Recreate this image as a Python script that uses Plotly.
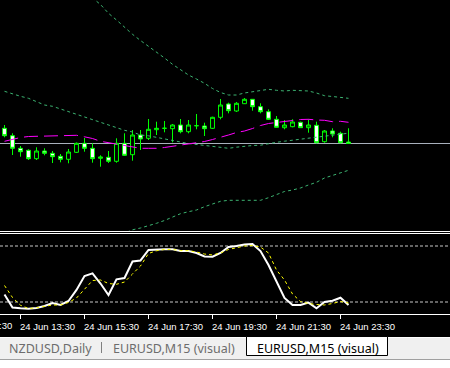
import pandas as pd
import plotly.graph_objects as go

# ---------------- data ----------------
times = pd.date_range("2019-06-24 13:00", periods=44, freq="15min")

open_ = [1.114147, 1.114073, 1.113947, 1.113927, 1.113843, 1.11392, 1.113897, 1.113867, 1.113837, 1.113907,
         1.113997, 1.113947, 1.113847, 1.113857, 1.113817, 1.113997, 1.113883, 1.11408, 1.114047, 1.114133,
         1.114147, 1.114143, 1.11418, 1.114113, 1.114173, 1.11417, 1.114147, 1.114257, 1.11439, 1.11432,
         1.114393, 1.114437, 1.114363, 1.114313, 1.114237, 1.114153, 1.114163, 1.114207, 1.114153, 1.114177,
         1.114013, 1.11412, 1.114097, 1.11401]
high = [1.11418, 1.114097, 1.11397, 1.113937, 1.113957, 1.113947, 1.11392, 1.11389, 1.11394, 1.114005,
        1.11405, 1.113997, 1.113877, 1.11392, 1.114047, 1.114097, 1.11413, 1.11413, 1.11424, 1.114213,
        1.11422, 1.11419, 1.11424, 1.11423, 1.11429, 1.114203, 1.114263, 1.11444, 1.114403, 1.11441,
        1.11445, 1.114437, 1.114397, 1.114337, 1.11427, 1.11423, 1.114237, 1.114213, 1.114237, 1.114213,
        1.11413, 1.114147, 1.114113, 1.114147]
low = [1.114057, 1.11388, 1.113863, 1.11383, 1.11383, 1.113877, 1.1138, 1.113807, 1.113797, 1.1139,
       1.113913, 1.113803, 1.113763, 1.1138, 1.113803, 1.11387, 1.113823, 1.11393, 1.11403, 1.11408,
       1.114107, 1.114007, 1.114097, 1.114097, 1.114137, 1.11407, 1.11414, 1.114237, 1.114297, 1.11431,
       1.11439, 1.114323, 1.114297, 1.11423, 1.114153, 1.114137, 1.114157, 1.11415, 1.114103, 1.113997,
       1.114003, 1.114057, 1.113997, 1.113995]
close = [1.114073, 1.113947, 1.113913, 1.113843, 1.11392, 1.113897, 1.113863, 1.113837, 1.11391, 1.113997,
         1.113947, 1.113843, 1.11386, 1.113817, 1.113997, 1.113877, 1.11408, 1.11404, 1.114137, 1.114147,
         1.114147, 1.11418, 1.114113, 1.11418, 1.114173, 1.114143, 1.114257, 1.11438, 1.114323, 1.114397,
         1.114437, 1.114363, 1.114313, 1.114237, 1.114157, 1.11418, 1.11421, 1.114153, 1.11418, 1.114003,
         1.11412, 1.11409, 1.114003, 1.113995]

bb_upper = [1.11618, 1.11613, 1.11609, 1.11603, 1.11595, 1.11588, 1.11583, 1.11576, 1.11568, 1.11561,
            1.11553, 1.11545, 1.115385, 1.115297, 1.11523, 1.115155, 1.115087, 1.115025, 1.114968, 1.114907,
            1.11485, 1.114787, 1.11473, 1.11468, 1.11464, 1.114597, 1.114545, 1.114505, 1.11448, 1.11448,
            1.1145, 1.114513, 1.114527, 1.114537, 1.114527, 1.11452, 1.114527, 1.114527, 1.11452, 1.1145,
            1.114473, 1.114465, 1.114458, 1.114447]
bb_middle = [1.114517, 1.11449, 1.114467, 1.114447, 1.114413, 1.11438, 1.114367, 1.11434, 1.11431, 1.114287,
             1.11426, 1.114233, 1.114207, 1.11418, 1.11415, 1.114127, 1.11411, 1.11408, 1.114072, 1.114058,
             1.114045, 1.114027, 1.11401, 1.113995, 1.113985, 1.113975, 1.11397, 1.11396, 1.113947, 1.113958,
             1.113968, 1.113975, 1.113978, 1.113995, 1.114007, 1.114018, 1.114028, 1.114038, 1.114047, 1.114058,
             1.114072, 1.11408, 1.114092, 1.114098]
bb_lower = [1.112854, 1.11285, 1.112844, 1.112864, 1.112876, 1.11288, 1.112904, 1.11292, 1.11294, 1.112964,
            1.11299, 1.113016, 1.113029, 1.113055, 1.11307, 1.113099, 1.113132, 1.11315, 1.113172, 1.113197,
            1.113225, 1.11326, 1.113293, 1.113313, 1.11333, 1.113363, 1.11339, 1.113417, 1.113427, 1.113427,
            1.113427, 1.113427, 1.113427, 1.113453, 1.113487, 1.113515, 1.11353, 1.11355, 1.11358, 1.113607,
            1.11365, 1.113675, 1.113707, 1.113727]
ma = [1.114017, 1.114035, 1.114055, 1.114065, 1.114067, 1.114075, 1.114077, 1.114077, 1.114077, 1.114077,
      1.114062, 1.114045, 1.114017, 1.114002, 1.113987, 1.11397, 1.113957, 1.113947, 1.113947, 1.113947,
      1.113955, 1.113967, 1.113975, 1.113987, 1.114005, 1.114015, 1.114035, 1.114055, 1.11408, 1.114105,
      1.11412, 1.114145, 1.114175, 1.114195, 1.114207, 1.114213, 1.114225, 1.114235, 1.114237, 1.11423,
      1.114227, 1.114213, 1.114217, 1.114207]

stoch_main = [28.0, 14.1, 13.3, 12.8, 13.6, 15.7, 18.9, 16.8, 21.1, 32.9,
              47.9, 50.7, 39.8, 27.5, 44.3, 45.7, 63.4, 64.5, 75.7, 76.3,
              76.5, 76.5, 74.6, 74.6, 72.5, 68.8, 68.5, 72.5, 78.9, 80.0,
              81.6, 82.1, 74.6, 59.6, 41.4, 24.3, 16.8, 16.8, 19.3, 13.3,
              20.0, 21.4, 24.6, 16.8]
stoch_signal = [37.7, 24.8, 16.5, 13.0, 13.8, 15.7, 16.8, 16.8, 19.5, 24.3,
                33.4, 43.0, 43.6, 39.8, 39.0, 41.4, 50.0, 58.6, 72.0, 74.9,
                76.3, 76.3, 75.0, 75.0, 73.6, 71.4, 70.4, 72.5, 76.3, 77.9,
                80.0, 80.5, 78.9, 72.5, 54.3, 43.6, 28.6, 20.5, 18.4, 17.3,
                16.8, 18.4, 20.5, 18.9]
stoch_levels = [80, 20]

tab_labels = ["NZDUSD,Daily", "EURUSD,M15 (visual)", "EURUSD,M15 (visual)"]

# ---------------- figure ----------------
W, H = 450, 368
X0, PX_PER_BAR = -0.5625, 8.0   # x-axis range start (bar index) and pixel width of one bar


def py(px):
    return 1 - px / H


x = list(range(len(times)))
tick_idx = [i for i, t in enumerate(times) if t.minute == 30 and t.hour % 2 == 1]
tick_txt = [times[i].strftime("%d %b %H:%M") for i in tick_idx]
prev_idx = tick_idx[0] - 8
prev_label = (times[0] + pd.Timedelta(minutes=15 * prev_idx)).strftime("%d %b %H:%M")

fig = go.Figure()

fig.add_trace(go.Candlestick(
    x=x, open=open_, high=high, low=low, close=close,
    increasing=dict(line=dict(color="#00ff00", width=1), fillcolor="black"),
    decreasing=dict(line=dict(color="#00ff00", width=1), fillcolor="white"),
    whiskerwidth=0, xaxis="x", yaxis="y", hoverinfo="skip"))

for band in (bb_upper, bb_middle, bb_lower):
    fig.add_trace(go.Scatter(x=x, y=band, mode="lines",
                             line=dict(color="#3cb371", width=1, dash="3px,3px"),
                             xaxis="x", yaxis="y", hoverinfo="skip"))

fig.add_trace(go.Scatter(x=x, y=ma, mode="lines",
                         line=dict(color="#ff00ff", width=1, dash="14px,6px"),
                         xaxis="x", yaxis="y", hoverinfo="skip"))

fig.add_trace(go.Scatter(x=x, y=stoch_main, mode="lines",
                         line=dict(color="white", width=2),
                         xaxis="x", yaxis="y2", hoverinfo="skip"))
fig.add_trace(go.Scatter(x=x, y=stoch_signal, mode="lines",
                         line=dict(color="#ffff00", width=1, dash="3px,3px"),
                         xaxis="x", yaxis="y2", hoverinfo="skip"))

shapes = []
# bid price line
shapes.append(dict(type="line", xref="paper", x0=0, x1=1, yref="y", y0=close[-1], y1=close[-1],
                   line=dict(color="#a8b0bc", width=1), layer="below"))
# stochastic levels
for lv in stoch_levels:
    shapes.append(dict(type="line", xref="paper", x0=0, x1=1, yref="y2", y0=lv, y1=lv,
                       line=dict(color="#c8c8c8", width=1, dash="3px,2px"), layer="below"))
# separator lines between panes
for yy in (231.5, 233.5):
    shapes.append(dict(type="line", xref="paper", x0=0, x1=1, yref="paper", y0=py(yy), y1=py(yy),
                       line=dict(color="white", width=1)))
# tab bar
shapes.append(dict(type="rect", xref="paper", x0=0, x1=1, yref="paper", y0=0, y1=py(337),
                   fillcolor="#f0f0f0", line=dict(width=0), layer="below"))
shapes.append(dict(type="line", xref="paper", x0=0, x1=1, yref="paper", y0=py(337.5), y1=py(337.5),
                   line=dict(color="white", width=1)))
shapes.append(dict(type="rect", xref="paper", x0=0, x1=1, yref="paper", y0=0, y1=py(360),
                   fillcolor="white", line=dict(width=0)))
shapes.append(dict(type="line", xref="paper", x0=0, x1=1, yref="paper", y0=py(359.5), y1=py(359.5),
                   line=dict(color="#a0a0a0", width=1)))
shapes.append(dict(type="line", xref="paper", x0=101.5 / W, x1=101.5 / W, yref="paper",
                   y0=py(353), y1=py(342), line=dict(color="#808080", width=1)))
shapes.append(dict(type="rect", xref="paper", x0=246.5 / W, x1=387.5 / W, yref="paper",
                   y0=py(355.5), y1=py(336.5), fillcolor="white", line=dict(color="black", width=1)))

# partially visible time label left of the first bar (its tick lies outside the x range)
prev_px = (prev_idx - X0) * PX_PER_BAR
annotations = [
    dict(text=tab_labels[0], xref="paper", yref="paper", x=7 / W, y=py(348.5), xanchor="left",
         yanchor="middle", showarrow=False, font=dict(family="Noto Sans", size=12.5, color="#6d6d6d")),
    dict(text=tab_labels[1], xref="paper", yref="paper", x=111 / W, y=py(348.5), xanchor="left",
         yanchor="middle", showarrow=False, font=dict(family="Noto Sans", size=12.5, color="#6d6d6d")),
    dict(text=tab_labels[2], xref="paper", yref="paper", x=255 / W, y=py(348.5), xanchor="left",
         yanchor="middle", showarrow=False, font=dict(family="Noto Sans", size=12.5, color="black")),
    dict(text=prev_label, xref="paper", yref="paper", x=prev_px / W, y=py(325), xanchor="left",
         yanchor="middle", showarrow=False, xshift=-1,
         font=dict(family="Liberation Sans", size=9.5, color="white")),
]

fig.update_layout(
    width=W, height=H, margin=dict(l=0, r=0, t=0, b=0),
    paper_bgcolor="black", plot_bgcolor="black", showlegend=False,
    boxgap=0.3,
    xaxis=dict(range=[X0, X0 + W / PX_PER_BAR], anchor="y2", domain=[0, 1], showgrid=False,
               zeroline=False, showline=True, linecolor="white", linewidth=1, ticks="outside",
               ticklen=4, tickcolor="white", tickwidth=1, tickvals=tick_idx, ticktext=tick_txt,
               tickfont=dict(family="Liberation Sans", size=9.5, color="white"),
               ticklabelshift=27, ticklabelstandoff=0, rangeslider=dict(visible=False)),
    yaxis=dict(domain=[py(231), 1], range=[1.11312, 1.11543], visible=False),
    yaxis2=dict(domain=[py(314), py(234)], range=[7.143, 92.857], visible=False),
    shapes=shapes, annotations=annotations,
)

fig.write_html("out.html")
